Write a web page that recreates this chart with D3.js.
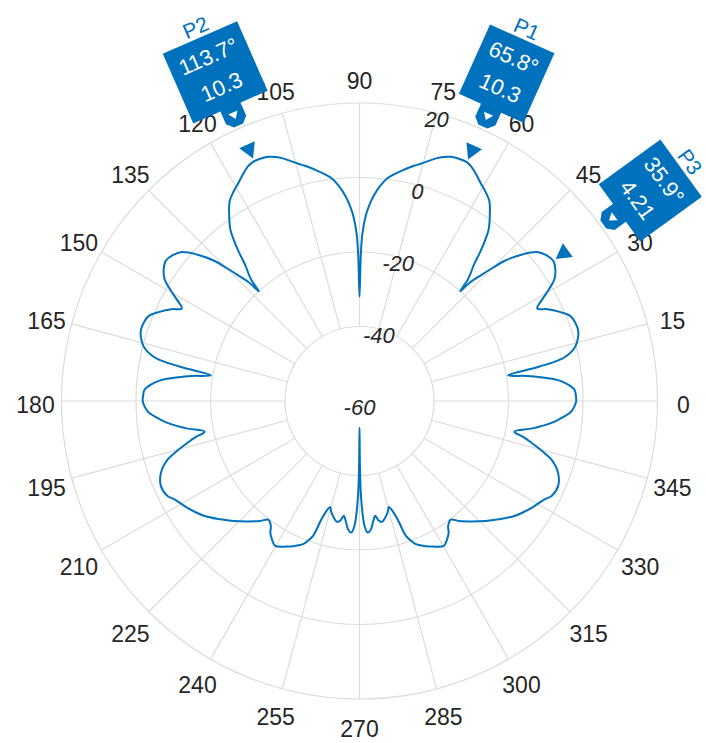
<!DOCTYPE html>
<html><head><meta charset="utf-8">
<script src="https://cdn.jsdelivr.net/npm/d3@7"></script>
<style>body{margin:0;background:#fff;} svg{display:block;font-family:"Liberation Sans",Arial,Helvetica,sans-serif;}</style>
</head><body><svg id="chart" width="706" height="743"></svg>
<script>
// Pattern data (angle in degrees, gain in dB)
const q1Angles = [0,1.5,3,4.5,6,7.5,8.5,9.8,10.8,12,14,16,18,20,22,24,26,27.5,29,30.5,32,34,35.9,38,40,42,44,45,46,47,47.5,48.2,49,50,51,52,53,55,57,59,61,63,64.5,65.8,67.5,69.5,71,72.5,74,75.5,77,79,81,83,84.5,86,87,88,89,89.5,90];
const q1Gain   = [-1.8,-1.9,-2.2,-3.8,-6.4,-11,-14.5,-19.5,-11,-3.8,-0.4,1.0,1.7,1.6,1.0,-1.2,-3.8,-6.2,-4.0,-1.0,1.7,3.4,4.21,3.6,2.2,-1.2,-5.8,-9.5,-13,-16.5,-20,-16.5,-14.5,-12.2,-8.5,-5.2,-2.4,1.0,4.0,5.6,7.0,8.6,9.7,10.3,10.3,10.0,9.3,8.3,7.0,5.8,4.8,3.3,1.8,0.1,-2.0,-4.7,-7,-10,-15,-21,-32];
const q2Angles = [90.5,91,92,93,94,95.5,97,99,101,103,104.5,106,107.5,109,110.5,112.5,113.7,115.5,117,119,121,123,125,127,128,129,130,131,131.8,132.5,133,134,135,136,138,140,142,144.1,146,148,149.5,151,152.5,154,156,158,160,162,164,166,168,169.2,170.2,171.5,172.5,174,175.5,177,178.5,180];
const q2Gain   = [-21,-15,-10,-7,-4.7,-2.0,0.1,1.8,3.3,4.8,5.8,7.0,8.3,9.3,10.0,10.3,10.3,9.7,8.6,7.0,5.6,4.0,1.0,-2.4,-5.2,-8.5,-12.2,-14.5,-16.5,-20,-16.5,-13,-9.5,-5.8,-1.2,2.2,3.6,4.21,3.4,1.7,-1.0,-4.0,-6.2,-3.8,-1.2,1.0,1.6,1.7,1.0,-0.4,-3.8,-11,-19.5,-14.5,-11,-6.4,-3.8,-2.2,-1.9,-1.8];
const q3Angles = [181.5,183,185.4,187,189,191.2,192.5,193.7,195.5,197,199.9,203.2,206.3,207.9,211.8,216.4,220.4,223.6,227,230.4,232.4,234.6,236,237.6,239.7,243.4,246,248.5,250,251,252.2,253.5,254.5,255.5,257,259.5,261,262.2,263.5,265,266.4,267.7,269,269.6,270];
const q3Gain   = [-2.3,-3.2,-6.4,-9,-13,-17.6,-14.8,-12.4,-8.8,-6.1,-3.3,-2.0,-2.5,-3.7,-5.6,-8.1,-11,-13.3,-15.8,-18.2,-19.8,-18.9,-17.2,-16.1,-15.0,-16.3,-17.4,-18.7,-20.3,-21.7,-26.7,-29.5,-30.5,-29.5,-28.3,-27.0,-27.6,-28.9,-27.5,-25.3,-24.6,-26.5,-33.6,-42,-52.8];
const q4Angles = [270.4,271,272.3,273.6,275,276.5,277.8,279,280.5,283,284.5,285.5,286.5,287.8,289,290,291.5,294,296.6,300.3,302.4,304,305.4,307.6,309.6,313,316.4,319.6,323.6,328.2,332.1,333.7,336.8,340.1,343,344.5,346.3,347.5,348.8,351,353,354.6,357,358.5,360];
const q4Gain   = [-42,-33.6,-26.5,-24.6,-25.3,-27.5,-28.9,-27.6,-27.0,-28.3,-29.5,-30.5,-29.5,-26.7,-21.7,-20.3,-18.7,-17.4,-16.3,-15.0,-16.1,-17.2,-18.9,-19.8,-18.2,-15.8,-13.3,-11,-8.1,-5.6,-3.7,-2.5,-2.0,-3.3,-6.1,-8.8,-12.4,-14.8,-17.6,-13,-9,-6.4,-3.2,-2.3,-1.8];

const thetaTicks = [0,15,30,45,60,75,90,105,120,135,150,165,180,195,210,225,240,255,270,285,300,315,330,345];
const rTicks = [-60,-40,-20,0,20];
const rDomain = [-60, 20];

const peakNames  = ["P1","P2","P3"];
const peakAngles = [65.8,113.7,35.9];
const peakValues = [10.3,10.3,4.21];

// ---- layout ----
const cx = 359.5, cy = 401, R = 298;
const lineColor = "#0072BD", gridColor = "#dcdcdc", textColor = "#262626";

const svg = d3.select("#chart");
const g = svg.append("g").attr("transform", `translate(${cx},${cy})`);
const r = d3.scaleLinear().domain(rDomain).range([0, R]);
const rad = d => d * Math.PI / 180;
const px = (a, rr) => rr * Math.cos(rad(a));
const py = (a, rr) => -rr * Math.sin(rad(a));

// rings
const ringVals = rTicks.filter(v => v > rDomain[0]);
g.selectAll("circle.ring").data(ringVals).join("circle")
  .attr("r", d => r(d)).attr("fill", "none")
  .attr("stroke", gridColor).attr("stroke-width", 1.2);

// spokes
const r0 = r(-40);
g.selectAll("line.spoke").data(thetaTicks).join("line")
  .attr("x1", d => px(d, r0)).attr("y1", d => py(d, r0))
  .attr("x2", d => px(d, R)).attr("y2", d => py(d, R))
  .attr("stroke", gridColor).attr("stroke-width", 1.2);

// theta labels
g.selectAll("text.tl").data(thetaTicks).join("text")
  .attr("x", d => px(d, 324)).attr("y", d => py(d, 324) + 3.5)
  .attr("text-anchor", "middle").attr("dominant-baseline", "central")
  .attr("font-size", 23).attr("fill", textColor).text(d => d);

// r labels
g.selectAll("text.rl").data(rTicks).join("text")
  .attr("x", d => px(75, r(d))).attr("y", d => py(75, r(d)) + 6)
  .attr("text-anchor", "middle").attr("dominant-baseline", "central")
  .attr("font-size", 22).attr("font-style", "italic").attr("fill", textColor).text(d => d);

// pattern curve
const angles = q1Angles.concat(q2Angles, q3Angles, q4Angles);
const gains = q1Gain.concat(q2Gain, q3Gain, q4Gain);
const pts = angles.map((a, i) => ({a, v: gains[i]}));
const line = d3.lineRadial()
  .angle(d => rad(90 - d.a))
  .radius(d => r(d.v))
  .curve(d3.curveCatmullRom.alpha(0.5));
g.append("path").attr("d", line(pts)).attr("fill", "none")
  .attr("stroke", lineColor).attr("stroke-width", 2).attr("stroke-linejoin", "round");

// peak markers
const peaks = peakNames.map((n, i) => ({n, a: peakAngles[i], v: peakValues[i]}));
g.selectAll("g.mk").data(peaks).join("g")
  .attr("transform", d => `translate(${px(d.a, r(d.v) + 3)},${py(d.a, r(d.v) + 3)}) rotate(${90 - d.a})`)
  .append("polygon").attr("points", "0,0 -8.5,-15 8.5,-15").attr("fill", lineColor);

// data tips
const tips = g.selectAll("g.tip").data(peaks).join("g")
  .attr("transform", d => `translate(${px(d.a, R)},${py(d.a, R)}) rotate(${90 - d.a})`);
tips.each(function(d) {
  const t = d3.select(this);
  const box = t.append("rect").attr("fill", lineColor);
  t.append("polygon").attr("points", "-11,-24 11,-24 11,-9 5,-3 -5,-3 -11,-9").attr("fill", lineColor);
  t.append("polygon").attr("points", "0,-10 -5,-17 5,-17").attr("fill", "#fff");
  const l1 = t.append("text").attr("x", 0).attr("y", -78).attr("text-anchor", "middle")
    .attr("dominant-baseline", "central").attr("font-size", 22).attr("fill", "#fff")
    .text(d.a.toFixed(1) + "°");
  t.append("text").attr("x", 0).attr("y", -45).attr("text-anchor", "middle")
    .attr("dominant-baseline", "central").attr("font-size", 22).attr("fill", "#fff")
    .text(String(d.v));
  const w = l1.node().getComputedTextLength() + 19;
  box.attr("x", -w / 2).attr("y", -99).attr("width", w).attr("height", 76);
  t.append("text").attr("x", 0).attr("y", -110).attr("text-anchor", "middle")
    .attr("dominant-baseline", "central").attr("font-size", 21).attr("fill", lineColor)
    .text(d.n);
});
</script></body></html>
